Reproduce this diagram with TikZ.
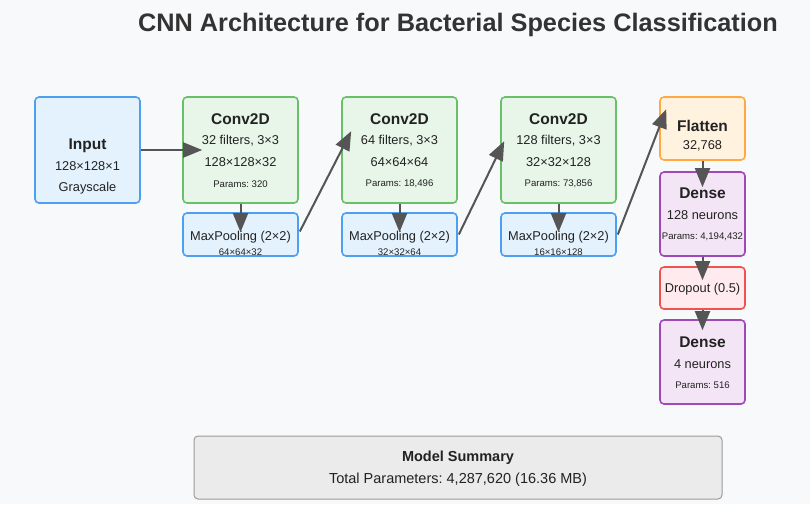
\documentclass[tikz,border=0pt]{standalone}
\usepackage{fontspec}
\setmainfont{Liberation Sans}
\usetikzlibrary{arrows.meta,calc}
\frenchspacing
\definecolor{bg}{HTML}{F8F9FA}
\definecolor{bluefill}{HTML}{E3F2FD}
\definecolor{blueline}{HTML}{4DA0F0}
\definecolor{greenfill}{HTML}{E8F5E9}
\definecolor{greenline}{HTML}{6ABF69}
\definecolor{orangefill}{HTML}{FFF3E0}
\definecolor{orangeline}{HTML}{FFA940}
\definecolor{purplefill}{HTML}{F3E5F5}
\definecolor{purpleline}{HTML}{A048B8}
\definecolor{redfill}{HTML}{FFEBEE}
\definecolor{redline}{HTML}{EF5350}
\definecolor{sumfill}{HTML}{EBEBEB}
\definecolor{sumline}{HTML}{9A9A9A}
\definecolor{txt}{HTML}{222222}
\definecolor{ttl}{HTML}{333333}
\definecolor{arr}{HTML}{555555}
\tikzset{
  box/.style={draw, rounded corners=4pt, line width=1.6pt, inner sep=0pt},
  bluebox/.style={box, fill=bluefill, draw=blueline},
  greenbox/.style={box, fill=greenfill, draw=greenline},
  orangebox/.style={box, fill=orangefill, draw=orangeline},
  purplebox/.style={box, fill=purplefill, draw=purpleline},
  redbox/.style={box, fill=redfill, draw=redline},
  sumbox/.style={draw=sumline, fill=sumfill, rounded corners=4pt, line width=1pt, inner sep=0pt},
  hd/.style={font=\fontsize{15.5}{17}\selectfont\bfseries, text=txt, inner sep=0pt},
  bd/.style={font=\fontsize{12.8}{14}\selectfont, text=txt, inner sep=0pt},
  sm/.style={font=\fontsize{9.6}{11}\selectfont, text=txt, inner sep=0pt},
  flow/.style={draw=arr, line width=2pt, -{Triangle[length=19pt,width=15pt]}},
}
\begin{document}
\begin{tikzpicture}[x=1pt,y=-1pt]
\fill[bg] (0,0) rectangle (810,504);
\useasboundingbox (0,0) rectangle (810,504);

\node[font=\fontsize{25.3}{28}\selectfont\bfseries, text=ttl, inner sep=0pt] (title) at (458,25) {CNN Architecture for Bacterial Species Classification};

% boxes
\node[bluebox, minimum width=105pt, minimum height=106pt] (input) at (87.5,150) {};
\node[greenbox, minimum width=115pt, minimum height=106pt] (conv1) at (240.5,150) {};
\node[bluebox, minimum width=115pt, minimum height=43pt] (pool1) at (240.5,234.5) {};
\node[greenbox, minimum width=115pt, minimum height=106pt] (conv2) at (399.5,150) {};
\node[bluebox, minimum width=115pt, minimum height=43pt] (pool2) at (399.5,234.5) {};
\node[greenbox, minimum width=115pt, minimum height=106pt] (conv3) at (558.5,150) {};
\node[bluebox, minimum width=115pt, minimum height=43pt] (pool3) at (558.5,234.5) {};
\node[orangebox, minimum width=85pt, minimum height=63pt] (flat) at (702.5,128.5) {};
\node[purplebox, minimum width=85pt, minimum height=84pt] (dense1) at (702.5,214) {};
\node[redbox, minimum width=85pt, minimum height=42pt] (drop) at (702.5,288) {};
\node[purplebox, minimum width=85pt, minimum height=84pt] (dense2) at (702.5,362) {};
\node[sumbox, minimum width=528pt, minimum height=63pt] (sum) at (458,467.5) {};

% arrows
\draw[flow] (input.east) -- ($(conv1.west)+(20,0)$);
\draw[flow] (conv1.south) -- ($(pool1.north)+(0,20)$);
\draw[flow] ($(pool1.east)+(1,-3)$) -- ($(conv2.north west)+(10,35)$);
\draw[flow] (conv2.south) -- ($(pool2.north)+(0,20)$);
\draw[flow] ($(pool2.east)+(1,0)$) -- ($(conv3.north west)+(4,45)$);
\draw[flow] (conv3.south) -- ($(pool3.north)+(0,20)$);
\draw[flow] ($(pool3.east)+(1,0)$) -- ($(flat.north west)+(7,13)$);
\draw[flow] (flat.south) -- ($(dense1.north)+(0,16)$);
\draw[flow] (dense1.south) -- ($(drop.north)+(0,14)$);
\draw[flow] (drop.south) -- ($(dense2.north)+(0,11)$);

% texts
\node[hd] (tin1) at (87.5,146) {Input};
\node[bd] (tin2) at (87.5,166) {128×128×1};
\node[bd] (tin3) at (87.5,188) {Grayscale};

\node[hd] (tc11) at (240.5,119) {Conv2D};
\node[bd] (tc12) at (240.5,141) {32 filters, 3×3};
\node[bd] (tc13) at (240.5,162) {128×128×32};
\node[sm] (tc14) at (240.5,184) {Params: 320};
\node[bd] (tp11) at (240.5,237) {MaxPooling (2×2)};
\node[sm] (tp12) at (240.5,252) {64×64×32};

\node[hd] (tc21) at (399.5,119) {Conv2D};
\node[bd] (tc22) at (399.5,141) {64 filters, 3×3};
\node[bd] (tc23) at (399.5,162) {64×64×64};
\node[sm] (tc24) at (399.5,184) {Params: 18,496};
\node[bd] (tp21) at (399.5,237) {MaxPooling (2×2)};
\node[sm] (tp22) at (399.5,252) {32×32×64};

\node[hd] (tc31) at (558.5,119) {Conv2D};
\node[bd] (tc32) at (558.5,141) {128 filters, 3×3};
\node[bd] (tc33) at (558.5,162) {32×32×128};
\node[sm] (tc34) at (558.5,184) {Params: 73,856};
\node[bd] (tp31) at (558.5,237) {MaxPooling (2×2)};
\node[sm] (tp32) at (558.5,252) {16×16×128};

\node[hd] (tf1) at (702.5,126) {Flatten};
\node[bd] (tf2) at (702.5,146) {32,768};

\node[hd] (td11) at (702.5,193) {Dense};
\node[bd] (td12) at (702.5,215) {128 neurons};
\node[sm] (td13) at (702.5,237) {Params: 4,194,432};

\node[bd] (tdr) at (702.5,289) {Dropout (0.5)};

\node[hd] (td21) at (702.5,342) {Dense};
\node[bd] (td22) at (702.5,364) {4 neurons};
\node[sm] (td23) at (702.5,385) {Params: 516};

\node[font=\fontsize{14.5}{16}\selectfont\bfseries, text=txt, inner sep=0pt] (ts1) at (458,458) {Model Summary};
\node[font=\fontsize{14.5}{16}\selectfont, text=txt, inner sep=0pt] (ts2) at (458,480) {Total Parameters: 4,287,620 (16.36 MB)};
\end{tikzpicture}
\end{document}
